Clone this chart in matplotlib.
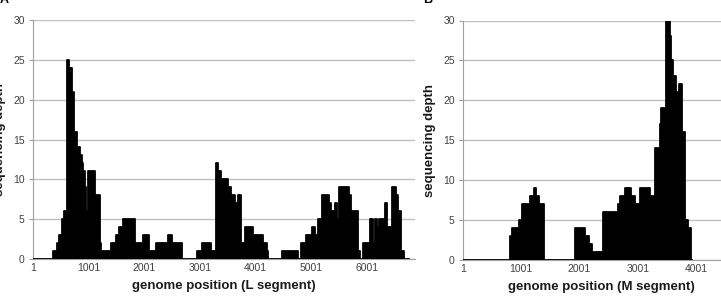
import matplotlib
matplotlib.use("Agg")
import matplotlib.pyplot as plt
import numpy as np

# L segment coverage: step start positions and depths
L_pos = [1, 364, 436, 472, 515, 556, 605, 652, 695, 736,
         795, 844, 880, 903, 933, 951, 993, 1113, 1203, 1221,
         1400, 1490, 1538, 1621, 1831, 1980, 2088, 2220, 2310, 2339,
         2418, 2500, 2687, 2949, 3046, 3208, 3285, 3326, 3387, 3506,
         3567, 3626, 3685, 3746, 3805, 3954, 4134, 4213, 4224, 4482,
         4762, 4811, 4913, 5021, 5075, 5121, 5200, 5319, 5362, 5421,
         5462, 5498, 5678, 5721, 5839, 5870, 5929, 6049, 6108, 6139,
         6180, 6216, 6331, 6360, 6457, 6516, 6557, 6618, 6665]
L_depth = [0, 1, 2, 3, 5, 6, 25, 24, 21, 16,
           14, 13, 12, 11, 9, 6, 11, 8, 2, 1,
           2, 3, 4, 5, 2, 3, 1, 2, 1, 2,
           3, 2, 0, 1, 2, 1, 12, 11, 10, 9,
           8, 7, 8, 2, 4, 3, 2, 1, 0, 1,
           0, 2, 3, 4, 3, 5, 8, 7, 6, 7,
           5, 9, 8, 6, 1, 0, 2, 5, 2, 5,
           4, 5, 7, 4, 9, 8, 6, 1, 0]
L_end = 6749

# M segment coverage
M_pos = [1, 806, 835, 960, 1007, 1149, 1218, 1247, 1303, 1389,
         1921, 2092, 2166, 2207, 2406, 2663, 2704, 2790, 2825, 2842,
         2893, 2950, 3048, 3207, 3293, 3379, 3408, 3481, 3550, 3579,
         3606, 3653, 3709, 3768, 3807, 3864, 3922]
M_depth = [0, 3, 4, 5, 7, 8, 9, 8, 7, 0,
           4, 3, 2, 1, 6, 7, 8, 9, 8, 9,
           8, 7, 9, 8, 14, 17, 19, 30, 28, 25,
           23, 21, 22, 16, 5, 4, 0]
M_end = 3940

L_ticks = [1, 1001, 2001, 3001, 4001, 5001, 6001]
M_ticks = [1, 1001, 2001, 3001, 4001]
y_ticks = [0, 5, 10, 15, 20, 25, 30]

W, H = 721, 300
fig = plt.figure(figsize=(W / 100, H / 100), dpi=100)
fig.patch.set_facecolor("white")

tick_font = dict(family=["Liberation Sans", "DejaVu Sans"], size=7.5)
lab_font = dict(family=["Liberation Sans", "DejaVu Sans"], size=9.5, weight="bold")


def panel(rect, pos, depth, end, ticks, xmax, xlabel):
    ax = fig.add_axes(rect)
    x = np.array(list(pos) + [end])
    y = np.array(list(depth) + [depth[-1]])
    ax.fill_between(x, y, step="post", color="black", linewidth=0, zorder=3)
    ax.step(x, y, where="post", color="black", linewidth=1.3, zorder=4)
    ax.set_xlim(1, xmax)
    ax.set_ylim(0, 30)
    ax.set_yticks(y_ticks)
    ax.set_xticks(ticks)
    ax.set_xticklabels([str(t) for t in ticks], color="#404040", **tick_font)
    ax.set_yticklabels([str(t) for t in y_ticks], color="#404040", **tick_font)
    ax.tick_params(axis="x", length=0, pad=3)
    ax.tick_params(axis="y", length=3, color="#a0a0a0", pad=3)
    ax.grid(axis="y", color="#c0c0c0", linewidth=1.0, zorder=0)
    ax.set_axisbelow(True)
    for s in ["top", "right"]:
        ax.spines[s].set_visible(False)
    ax.spines["left"].set_color("#a0a0a0")
    ax.spines["bottom"].set_color("#a0a0a0")
    ax.set_xlabel(xlabel, color="#1a1a1a", labelpad=5, **lab_font)
    ax.set_ylabel("sequencing depth", color="#1a1a1a", labelpad=5, **lab_font)
    return ax


axL = panel([33 / W, 41 / H, 382 / W, 239 / H], L_pos, L_depth, L_end,
            L_ticks, 6865, "genome position (L segment)")
axR = panel([463 / W, 40 / H, 276 / W, 239.5 / H], M_pos, M_depth, M_end,
            M_ticks, 4739, "genome position (M segment)")

fig.text(0 / W, 1.0, "A", ha="left", va="center", fontweight="bold",
         fontsize=9, family=["Liberation Sans", "DejaVu Sans"])
fig.text(423 / W, 1.0, "B", ha="left", va="center", fontweight="bold",
         fontsize=9, family=["Liberation Sans", "DejaVu Sans"])

fig.savefig("out.png", dpi=100)
